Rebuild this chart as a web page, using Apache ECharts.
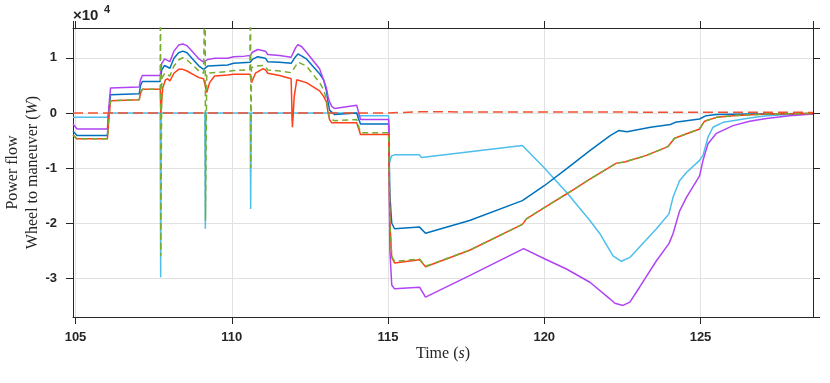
<!DOCTYPE html>
<html>
<head>
<meta charset="utf-8">
<script src="https://cdn.jsdelivr.net/npm/echarts@6/dist/echarts.min.js"></script>
<style>
  html, body { margin: 0; padding: 0; background: #fff; }
  #main { width: 830px; height: 383px; }
</style>
</head>
<body>
<div id="main"></div>
<script>
// values, in units of 1e4 W
var xTicks = [105, 110, 115, 120, 125];
var yTicks = [-3, -2, -1, 0, 1];

var tBlue = [104.92, 105.05, 106.02, 106.06, 106.12, 107.04, 107.08, 107.14, 107.71, 107.76, 107.85, 107.91, 108.02, 108.15, 108.30, 108.43, 108.57, 108.76, 108.95, 109.10, 109.16, 109.23, 109.87, 109.93, 110.06, 110.59, 110.66, 110.83, 111.08, 111.15, 111.53, 111.90, 112.04, 112.12, 112.39, 112.81, 112.94, 113.03, 113.08, 113.13, 113.29, 114.00, 114.04, 114.12, 115.02, 115.06, 115.12, 115.21, 116.01, 116.20, 117.61, 119.30, 120.00, 120.72, 121.47, 122.11, 122.38, 122.65, 123.40, 124.04, 124.19, 124.97, 125.18, 125.51, 126.57, 128.60];
var vBlue = [-0.33, -0.41, -0.41, -0.05, 0.33, 0.35, 0.50, 0.57, 0.57, 0.78, 0.86, 0.88, 0.81, 0.99, 1.09, 1.12, 1.09, 0.97, 0.85, 0.79, 0.78, 0.85, 0.87, 0.84, 0.90, 0.92, 0.97, 1.02, 0.99, 0.93, 0.92, 0.90, 1.02, 1.07, 0.98, 0.71, 0.60, 0.40, 0.20, 0.05, -0.03, 0.00, -0.08, -0.20, -0.20, -1.50, -2.00, -2.10, -2.07, -2.18, -1.95, -1.59, -1.32, -1.01, -0.68, -0.41, -0.32, -0.34, -0.26, -0.21, -0.17, -0.11, -0.05, -0.03, -0.02, -0.01];

var tPurple = [104.92, 105.05, 106.02, 106.06, 106.12, 107.04, 107.08, 107.14, 107.71, 107.76, 107.85, 107.91, 108.02, 108.15, 108.30, 108.43, 108.57, 108.76, 108.95, 109.10, 109.16, 109.23, 109.45, 109.87, 109.93, 110.06, 110.41, 110.59, 110.66, 110.83, 111.08, 111.15, 111.53, 111.90, 112.04, 112.12, 112.24, 112.39, 112.81, 113.03, 113.08, 113.13, 113.20, 113.29, 114.00, 114.04, 114.12, 115.02, 115.06, 115.12, 115.21, 116.01, 116.20, 117.61, 119.34, 119.99, 120.71, 121.46, 122.10, 122.26, 122.52, 122.74, 123.05, 123.59, 123.99, 124.12, 124.33, 124.55, 124.97, 125.08, 125.24, 125.51, 126.04, 126.57, 127.11, 127.85, 128.60];
var vPurple = [-0.20, -0.29, -0.29, 0.05, 0.45, 0.47, 0.60, 0.68, 0.68, 0.90, 0.98, 1.01, 0.93, 1.12, 1.23, 1.25, 1.22, 1.10, 0.98, 0.92, 0.92, 0.97, 0.99, 0.99, 0.96, 1.02, 1.03, 1.04, 1.10, 1.15, 1.12, 1.06, 1.04, 1.01, 1.18, 1.24, 1.20, 1.10, 0.80, 0.45, 0.30, 0.20, 0.12, 0.08, 0.14, 0.05, -0.12, -0.12, -2.50, -3.12, -3.19, -3.16, -3.34, -2.95, -2.46, -2.64, -2.83, -3.07, -3.37, -3.45, -3.49, -3.43, -3.16, -2.68, -2.37, -2.19, -1.78, -1.53, -1.14, -0.86, -0.56, -0.37, -0.23, -0.15, -0.10, -0.05, -0.02];

var tGreen = [104.92, 105.05, 106.02, 106.06, 106.12, 107.04, 107.08, 107.14, 107.71, 107.72, 107.73, 107.76, 107.85, 107.91, 108.02, 108.15, 108.30, 108.43, 108.57, 108.76, 108.95, 109.10, 109.14, 109.15, 109.16, 109.20, 109.23, 109.87, 109.93, 110.06, 110.58, 110.60, 110.61, 110.63, 110.76, 110.99, 111.08, 111.15, 111.53, 111.90, 112.04, 112.12, 112.39, 112.81, 112.94, 113.03, 113.08, 113.13, 113.29, 114.00, 114.04, 114.12, 115.02, 115.06, 115.12, 115.21, 116.01, 116.20, 117.61, 119.30, 119.43, 119.99, 120.71, 121.46, 122.31, 122.57, 123.27, 123.96, 124.17, 124.97, 125.13, 125.51, 126.04, 127.11, 128.60];
var vGreen = [-0.40, -0.47, -0.47, -0.15, 0.22, 0.24, 0.36, 0.43, 0.43, 3.0, -2.6, 0.62, 0.72, 0.74, 0.67, 0.85, 0.96, 1.00, 0.96, 0.86, 0.76, 0.72, 0.72, 3.0, -1.95, 0.72, 0.74, 0.75, 0.72, 0.77, 0.78, 3.0, -1.0, 0.82, 0.85, 0.86, 0.84, 0.78, 0.76, 0.73, 0.85, 0.92, 0.85, 0.55, 0.42, 0.25, 0.05, -0.10, -0.14, -0.12, -0.20, -0.36, -0.36, -2.0, -2.6, -2.69, -2.65, -2.78, -2.49, -2.02, -1.92, -1.72, -1.47, -1.20, -0.91, -0.89, -0.77, -0.61, -0.46, -0.29, -0.15, -0.08, -0.05, -0.02, -0.01];

var tRed = [104.92, 105.05, 106.02, 106.06, 106.12, 107.04, 107.08, 107.14, 107.71, 107.73, 107.79, 107.88, 107.95, 108.02, 108.15, 108.30, 108.43, 108.57, 108.76, 108.95, 109.10, 109.15, 109.20, 109.29, 109.45, 109.87, 109.93, 110.06, 110.59, 110.63, 110.76, 110.99, 111.08, 111.15, 111.53, 111.90, 111.94, 112.00, 112.08, 112.39, 112.81, 112.94, 113.03, 113.08, 113.13, 113.20, 114.00, 114.04, 114.12, 115.02, 115.06, 115.12, 115.21, 116.01, 116.20, 117.61, 119.30, 119.43, 119.99, 120.71, 121.46, 122.31, 122.57, 123.27, 123.96, 124.17, 124.97, 125.13, 125.51, 126.04, 127.11, 128.60];
var vRed = [-0.40, -0.47, -0.47, -0.15, 0.22, 0.24, 0.36, 0.43, 0.43, 0.0, 0.45, 0.60, 0.62, 0.58, 0.72, 0.79, 0.79, 0.76, 0.70, 0.64, 0.62, 0.62, 0.37, 0.55, 0.67, 0.69, 0.66, 0.70, 0.70, 0.55, 0.72, 0.80, 0.78, 0.72, 0.68, 0.62, -0.26, 0.30, 0.60, 0.55, 0.40, 0.30, 0.20, 0.01, -0.12, -0.18, -0.18, -0.25, -0.39, -0.39, -2.0, -2.62, -2.72, -2.66, -2.79, -2.49, -2.02, -1.92, -1.72, -1.47, -1.20, -0.91, -0.89, -0.77, -0.61, -0.46, -0.29, -0.15, -0.08, -0.05, -0.02, -0.01];

var tCyan = [104.92, 106.02, 106.06, 107.71, 107.725, 107.74, 109.14, 109.155, 109.17, 110.59, 110.605, 110.62, 111.92, 111.94, 111.97, 114.02, 114.05, 115.02, 115.04, 115.11, 115.21, 116.01, 116.07, 119.30, 119.99, 120.71, 121.46, 121.78, 122.20, 122.47, 122.74, 123.05, 123.59, 123.99, 124.12, 124.33, 124.55, 124.97, 125.08, 125.24, 125.40, 125.72, 126.04, 126.57, 127.11, 127.85, 128.60];
var vCyan = [-0.08, -0.08, 0.0, 0.0, -2.98, 0.0, 0.0, -2.10, 0.0, 0.0, -1.74, 0.0, 0.0, -0.14, 0.0, 0.0, -0.05, -0.05, -0.92, -0.78, -0.76, -0.76, -0.81, -0.59, -0.99, -1.44, -1.95, -2.19, -2.59, -2.69, -2.62, -2.43, -2.10, -1.83, -1.53, -1.23, -1.08, -0.86, -0.77, -0.44, -0.26, -0.17, -0.14, -0.09, -0.05, -0.03, -0.01];

var tRedDash = [104.92, 115.0, 116.0, 128.6];
var vRedDash = [0, 0, 0.02, 0.01];

var zip = function (t, v) {
  return t.map(function (x, i) { return [x, v[i]]; });
};

var axisColor = '#262626';
var gridColor = '#e2e2e2';
var tickFont = { color: axisColor, fontSize: 13, fontWeight: 'bold', fontFamily: 'Liberation Sans' };

var myChart = echarts.init(document.getElementById('main'));

function line(data, color, dash, z) {
  return {
    type: 'line',
    data: data,
    symbol: 'none',
    z: z,
    lineStyle: { color: color, width: 1.5, type: dash || 'solid' }
  };
}

var option = {
  animation: false,
  backgroundColor: '#fff',
  grid: { left: 73, right: 17, top: 28, bottom: 66, containLabel: false, outerBoundsMode: 'none' },
  xAxis: [{
    type: 'value', min: 104.92, max: 128.6, position: 'bottom',
    axisLine: { show: true, onZero: false, lineStyle: { color: axisColor, width: 1 } },
    axisTick: { show: true, inside: false, length: 7, lineStyle: { color: axisColor } },
    axisLabel: Object.assign({ margin: 14, showMinLabel: false, showMaxLabel: false }, tickFont),
    splitLine: { show: true, lineStyle: { color: gridColor, width: 1 } },
    name: 'Time ({i|s})',
    nameLocation: 'middle',
    nameGap: 29,
    nameMoveOverlap: false,
    nameTextStyle: {
      color: axisColor, fontSize: 16, fontFamily: 'Liberation Serif',
      rich: { i: { fontStyle: 'italic', fontSize: 16, fontFamily: 'Liberation Serif', color: axisColor } }
    }
  }, {
    type: 'value', min: 104.92, max: 128.6, position: 'top',
    axisLine: { show: true, onZero: false, lineStyle: { color: axisColor, width: 1 } },
    axisTick: { show: true, inside: false, length: 7, lineStyle: { color: axisColor } },
    axisLabel: { show: false },
    splitLine: { show: false }
  }],
  yAxis: [{
    type: 'value', min: -3.7, max: 1.54, position: 'left',
    axisLine: { show: true, onZero: false, lineStyle: { color: axisColor, width: 1 } },
    axisTick: { show: true, inside: false, length: 7, lineStyle: { color: axisColor } },
    axisLabel: Object.assign({ margin: 16, showMinLabel: false, showMaxLabel: false }, tickFont),
    splitLine: { show: true, lineStyle: { color: gridColor, width: 1 } },
    name: 'Power flow\nWheel to maneuver ({i|W})',
    nameLocation: 'middle',
    nameGap: 30,
    nameMoveOverlap: false,
    nameTextStyle: {
      color: axisColor, fontSize: 16, lineHeight: 20, fontFamily: 'Liberation Serif',
      rich: { i: { fontStyle: 'italic', fontSize: 16, lineHeight: 20, fontFamily: 'Liberation Serif', color: axisColor } }
    }
  }, {
    type: 'value', min: -3.7, max: 1.54, position: 'right',
    axisLine: { show: true, onZero: false, lineStyle: { color: axisColor, width: 1 } },
    axisTick: { show: true, inside: false, length: 7, lineStyle: { color: axisColor } },
    axisLabel: { show: false },
    splitLine: { show: false }
  }],
  graphic: [
    { type: 'text', left: 73, top: 8, style: { text: '\u00d710', fill: axisColor, font: 'bold 15px "Liberation Sans"' } },
    { type: 'text', left: 104, top: 4, style: { text: '4', fill: axisColor, font: 'bold 11px "Liberation Sans"' } }
  ],
  series: [
    line(zip(tCyan, vCyan), '#4DBEEE', null, 2),
    line(zip(tBlue, vBlue), '#0072BD', null, 3),
    line(zip(tPurple, vPurple), '#B044F5', null, 4),
    line(zip(tRed, vRed), '#FF3F1A', null, 5),
    line(zip(tGreen, vGreen), '#77AC30', [6, 4], 6),
    line(zip(tRedDash, vRedDash), '#F2502E', [10, 5], 7)
  ]
};

myChart.setOption(option);
</script>
</body>
</html>
